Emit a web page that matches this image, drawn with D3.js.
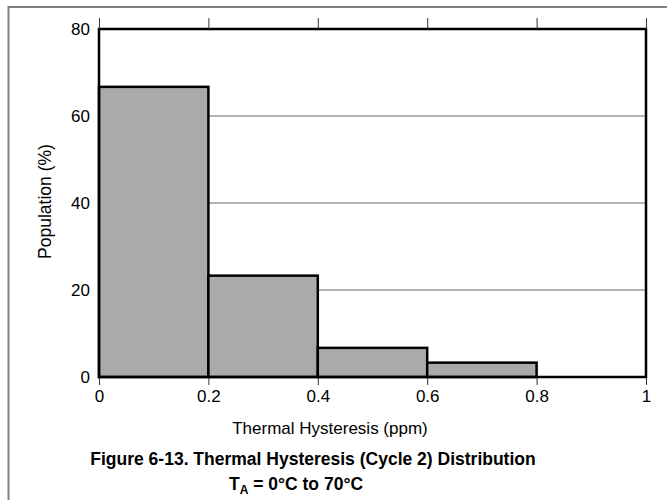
<!DOCTYPE html>
<html><head><meta charset="utf-8">
<script src="https://cdn.jsdelivr.net/npm/d3@7"></script>
<style>body{margin:0;background:#fff}svg{display:block}text{font-family:"Liberation Sans",Arial,sans-serif}</style>
</head><body>
<script>
const binStarts = [0, 0.2, 0.4, 0.6];
const binEnds = [0.2, 0.4, 0.6, 0.8];
const population = [66.7, 23.3, 6.7, 3.3];
const xTicks = [0, 0.2, 0.4, 0.6, 0.8, 1];
const xTickLabels = ["0", "0.2", "0.4", "0.6", "0.8", "1"];
const yTicks = [0, 20, 40, 60, 80];
const gridValues = [20, 40, 60];

const W = 667, H = 500;
const svg = d3.select("body").append("svg").attr("width", W).attr("height", H);

// outer frame (top and left visible)
svg.append("path").attr("d", `M8.5,${H} L8.5,7 L${W},7`).attr("fill","none").attr("stroke","#808080").attr("stroke-width",2);

const L = 99, R = 646, T = 29, B = 377;
const x = d3.scaleLinear().domain([0,1]).range([L,R]);
const y = d3.scaleLinear().domain([0,80]).range([B,T]);

// gridlines
svg.append("g").selectAll("line").data(gridValues).join("line")
  .attr("x1", L).attr("x2", R).attr("y1", d=>y(d)).attr("y2", d=>y(d))
  .attr("stroke","#666").attr("stroke-width",1);

// bars
svg.append("g").selectAll("rect").data(population).join("rect")
  .attr("x",(d,i)=>x(binStarts[i])).attr("width",(d,i)=>x(binEnds[i])-x(binStarts[i]))
  .attr("y",d=>y(d)).attr("height",d=>y(0)-y(d))
  .attr("fill","#aaaaaa").attr("stroke","#000").attr("stroke-width",2.5);

// plot frame
svg.append("rect").attr("x",L).attr("y",T).attr("width",R-L).attr("height",B-T)
  .attr("fill","none").attr("stroke","#000").attr("stroke-width",2.5);

// bottom axis
const xAxis = d3.axisBottom(x).tickValues(xTicks).tickFormat((d,i)=>xTickLabels[i]).tickSizeInner(7).tickSizeOuter(0).tickPadding(5);
const gx = svg.append("g").attr("transform",`translate(0,${B+1})`).call(xAxis);
gx.select(".domain").remove();
gx.selectAll("line").attr("stroke","#333");
gx.selectAll("text").attr("font-size",17).attr("fill","#000").attr("font-family","Liberation Sans, Arial, sans-serif");

// top ticks
const xTop = d3.axisTop(x).tickValues(xTicks).tickFormat("").tickSizeInner(11).tickSizeOuter(0);
const gt = svg.append("g").attr("transform",`translate(0,${T})`).call(xTop);
gt.select(".domain").remove();
gt.selectAll("line").attr("stroke","#333");

// left axis labels
const yAxis = d3.axisLeft(y).tickValues(yTicks).tickSize(0).tickPadding(9);
const gy = svg.append("g").attr("transform",`translate(${L},0)`).call(yAxis);
gy.select(".domain").remove();
gy.selectAll("text").attr("font-size",17).attr("fill","#000").attr("font-family","Liberation Sans, Arial, sans-serif");

// axis titles
svg.append("text").attr("x",330).attr("y",434).attr("text-anchor","middle").attr("font-size",17).text("Thermal Hysteresis (ppm)");
svg.append("text").attr("transform","translate(51,201.5) rotate(-90)").attr("text-anchor","middle").attr("font-size",17.5).text("Population (%)");

// caption
svg.append("text").attr("x",313).attr("y",465).attr("text-anchor","middle").attr("font-size",17.5).attr("font-weight","bold").text("Figure 6-13. Thermal Hysteresis (Cycle 2) Distribution");
const t2 = svg.append("text").attr("x",296).attr("y",490).attr("text-anchor","middle").attr("font-size",17.5).attr("font-weight","bold");
t2.append("tspan").text("T");
t2.append("tspan").attr("font-size",12).attr("dy",4).text("A");
t2.append("tspan").attr("dy",-4).text(" = 0°C to 70°C");
</script>
</body></html>
